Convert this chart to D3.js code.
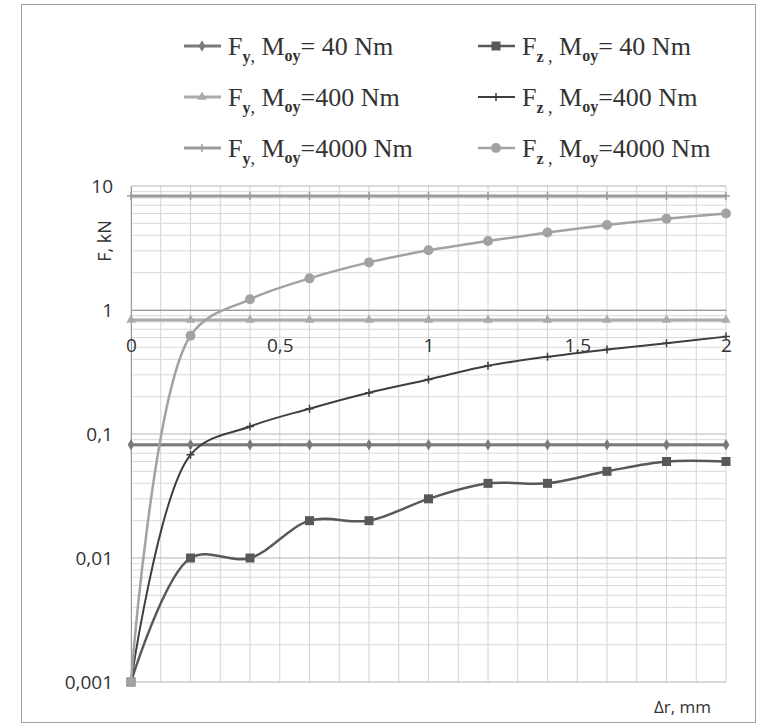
<!DOCTYPE html>
<html>
<head>
<meta charset="utf-8">
<script src="https://cdn.jsdelivr.net/npm/d3@7"></script>
<style>
  body { margin: 0; background: #fff; }
  text { fill: #333; }
</style>
</head>
<body>
<div id="chart"></div>
<script>
// displacement, mm
const dr = [0, 0.2, 0.4, 0.6, 0.8, 1.0, 1.2, 1.4, 1.6, 1.8, 2.0];

// forces, kN
const fy40   = [0.082, 0.082, 0.082, 0.082, 0.082, 0.082, 0.082, 0.082, 0.082, 0.082, 0.082];
const fy400  = [0.83, 0.83, 0.83, 0.83, 0.83, 0.83, 0.83, 0.83, 0.83, 0.83, 0.83];
const fy4000 = [8.3, 8.3, 8.3, 8.3, 8.3, 8.3, 8.3, 8.3, 8.3, 8.3, 8.3];
const fz40   = [0.001, 0.01, 0.01, 0.02, 0.02, 0.03, 0.04, 0.04, 0.05, 0.06, 0.06];
const fz400  = [0.001, 0.068, 0.115, 0.16, 0.215, 0.275, 0.355, 0.42, 0.48, 0.54, 0.61];
const fz4000 = [0.001, 0.62, 1.22, 1.8, 2.42, 3.03, 3.6, 4.22, 4.85, 5.45, 6.0];

const xTicks = [0, 0.5, 1, 1.5, 2];
const yTicks = [0.001, 0.01, 0.1, 1, 10];

const width = 759, height = 725;
const margin = {top: 186, right: 33, bottom: 43, left: 131};

const series = [
  {sub: "y", rest: "= 40 Nm",   values: fy40,   color: "#7a7a7a", w: 3,   marker: "diamond"},
  {sub: "z", rest: "= 40 Nm",   values: fz40,   color: "#585858", w: 2.5, marker: "square"},
  {sub: "y", rest: "=400 Nm",   values: fy400,  color: "#ababab", w: 3,   marker: "triangle"},
  {sub: "z", rest: "=400 Nm",   values: fz400,  color: "#3e3e3e", w: 2,   marker: "plus"},
  {sub: "y", rest: "=4000 Nm",  values: fy4000, color: "#9c9c9c", w: 3,   marker: "plus"},
  {sub: "z", rest: "=4000 Nm",  values: fz4000, color: "#a2a2a2", w: 2.5, marker: "circle"}
];

const svg = d3.select("#chart").append("svg")
  .attr("width", width)
  .attr("height", height);

// chart frame
svg.append("rect")
  .attr("x", 21.5).attr("y", 4.5)
  .attr("width", 734).attr("height", 718)
  .attr("fill", "#fff")
  .attr("stroke", "#a0a0a0");

const x = d3.scaleLinear()
  .domain([0, 2])
  .range([margin.left, width - margin.right]);

const y = d3.scaleLog()
  .domain([0.001, 10])
  .range([height - margin.bottom, margin.top]);

// grid
const grid = svg.append("g");
grid.selectAll(".vx")
  .data(d3.range(0, 21).map(i => i / 10))
  .join("line")
  .attr("x1", d => x(d)).attr("x2", d => x(d))
  .attr("y1", y(10)).attr("y2", y(0.001))
  .attr("stroke", "#d2d2d2");

const minor = [];
yTicks.slice(0, -1).forEach(t => { for (let k = 2; k < 10; k++) minor.push(t * k); });
grid.selectAll(".hm")
  .data(minor)
  .join("line")
  .attr("x1", x(0)).attr("x2", x(2))
  .attr("y1", d => y(d)).attr("y2", d => y(d))
  .attr("stroke", "#dadada");

grid.selectAll(".hM")
  .data(yTicks)
  .join("line")
  .attr("x1", x(0)).attr("x2", x(2))
  .attr("y1", d => y(d)).attr("y2", d => y(d))
  .attr("stroke", "#b4b4b4");

// y axis
const yAxis = svg.append("g")
  .attr("transform", `translate(${x(0)},0)`)
  .call(d3.axisLeft(y).tickValues(yTicks).tickSize(0).tickPadding(18)
    .tickFormat(d => String(d).replace(".", ",")));
yAxis.select(".domain").attr("stroke", "#9a9a9a");
yAxis.selectAll("text")
  .attr("font-family", "Open Sans, sans-serif")
  .attr("font-size", 19)
  .attr("fill", "#333");

// x axis crosses at 1
const xAxis = svg.append("g")
  .attr("transform", `translate(0,${y(1)})`)
  .call(d3.axisBottom(x).tickValues(xTicks).tickSize(0).tickPadding(29)
    .tickFormat(d => String(d).replace(".", ",")));
xAxis.select(".domain").attr("stroke", "#9a9a9a");
xAxis.selectAll("text")
  .attr("font-family", "Open Sans, sans-serif")
  .attr("font-size", 19)
  .attr("fill", "#333");

svg.append("text")
  .attr("transform", `translate(111,241) rotate(-90)`)
  .attr("text-anchor", "middle")
  .attr("font-family", "Open Sans, sans-serif")
  .attr("font-size", 18)
  .text("F, kN");

svg.append("text")
  .attr("x", 711).attr("y", 713)
  .attr("text-anchor", "end")
  .attr("font-family", "Open Sans, sans-serif")
  .attr("font-size", 17)
  .text("\u0394r, mm");

// markers
function drawMarker(g, type, cx, cy, color, s) {
  if (type === "square") {
    g.append("rect").attr("x", cx - s / 2).attr("y", cy - s / 2)
      .attr("width", s).attr("height", s).attr("fill", color);
  } else if (type === "circle") {
    g.append("circle").attr("cx", cx).attr("cy", cy).attr("r", s / 2).attr("fill", color);
  } else if (type === "diamond") {
    g.append("path").attr("d", d3.symbol(d3.symbolDiamond, s * s * 0.6)())
      .attr("transform", `translate(${cx},${cy})`).attr("fill", color);
  } else if (type === "triangle") {
    g.append("path").attr("d", d3.symbol(d3.symbolTriangle, s * s * 0.6)())
      .attr("transform", `translate(${cx},${cy})`).attr("fill", color);
  } else {
    g.append("path").attr("d", `M${cx - s / 2},${cy}H${cx + s / 2}M${cx},${cy - s / 2}V${cy + s / 2}`)
      .attr("stroke", color).attr("stroke-width", 1.5);
  }
}

const markerSize = {square: 9, circle: 10, diamond: 8, triangle: 8, plus: 8};

const line = d3.line()
  .x(d => x(d[0]))
  .y(d => y(d[1]))
  .curve(d3.curveCatmullRom.alpha(0.5));

const plot = svg.append("g");
series.forEach(s => {
  const pts = dr.map((d, i) => [d, s.values[i]]);
  const g = plot.append("g");
  g.append("path")
    .datum(pts)
    .attr("d", line)
    .attr("fill", "none")
    .attr("stroke", s.color)
    .attr("stroke-width", s.w);
  pts.forEach(p => drawMarker(g, s.marker, x(p[0]), y(p[1]), s.color, markerSize[s.marker]));
});

// legend
const legCols = [184, 478];
const legRows = [55, 106, 157];
series.forEach((s, i) => {
  const lx = legCols[i % 2], ly = legRows[Math.floor(i / 2)];
  const g = svg.append("g");
  g.append("line")
    .attr("x1", lx).attr("x2", lx + 37)
    .attr("y1", ly - 9).attr("y2", ly - 9)
    .attr("stroke", s.color).attr("stroke-width", s.w);
  drawMarker(g, s.marker, lx + 18, ly - 9, s.color, markerSize[s.marker]);
  const t = g.append("text")
    .attr("x", lx + 44).attr("y", ly)
    .attr("font-family", "Liberation Serif, serif")
    .attr("font-size", 26)
    .attr("fill", "#3a3a3a");
  t.append("tspan").text("F");
  t.append("tspan").attr("dy", 7).attr("font-size", 16).attr("font-weight", "bold").text(s.sub);
  t.append("tspan").attr("font-size", 18).text(s.sub === "z" ? " ," : ",");
  t.append("tspan").attr("dy", -7).text(" M");
  t.append("tspan").attr("dy", 6).attr("font-size", 16).attr("font-weight", "bold").text("oy");
  t.append("tspan").attr("dy", -6).text(s.rest);
});
</script>
</body>
</html>
